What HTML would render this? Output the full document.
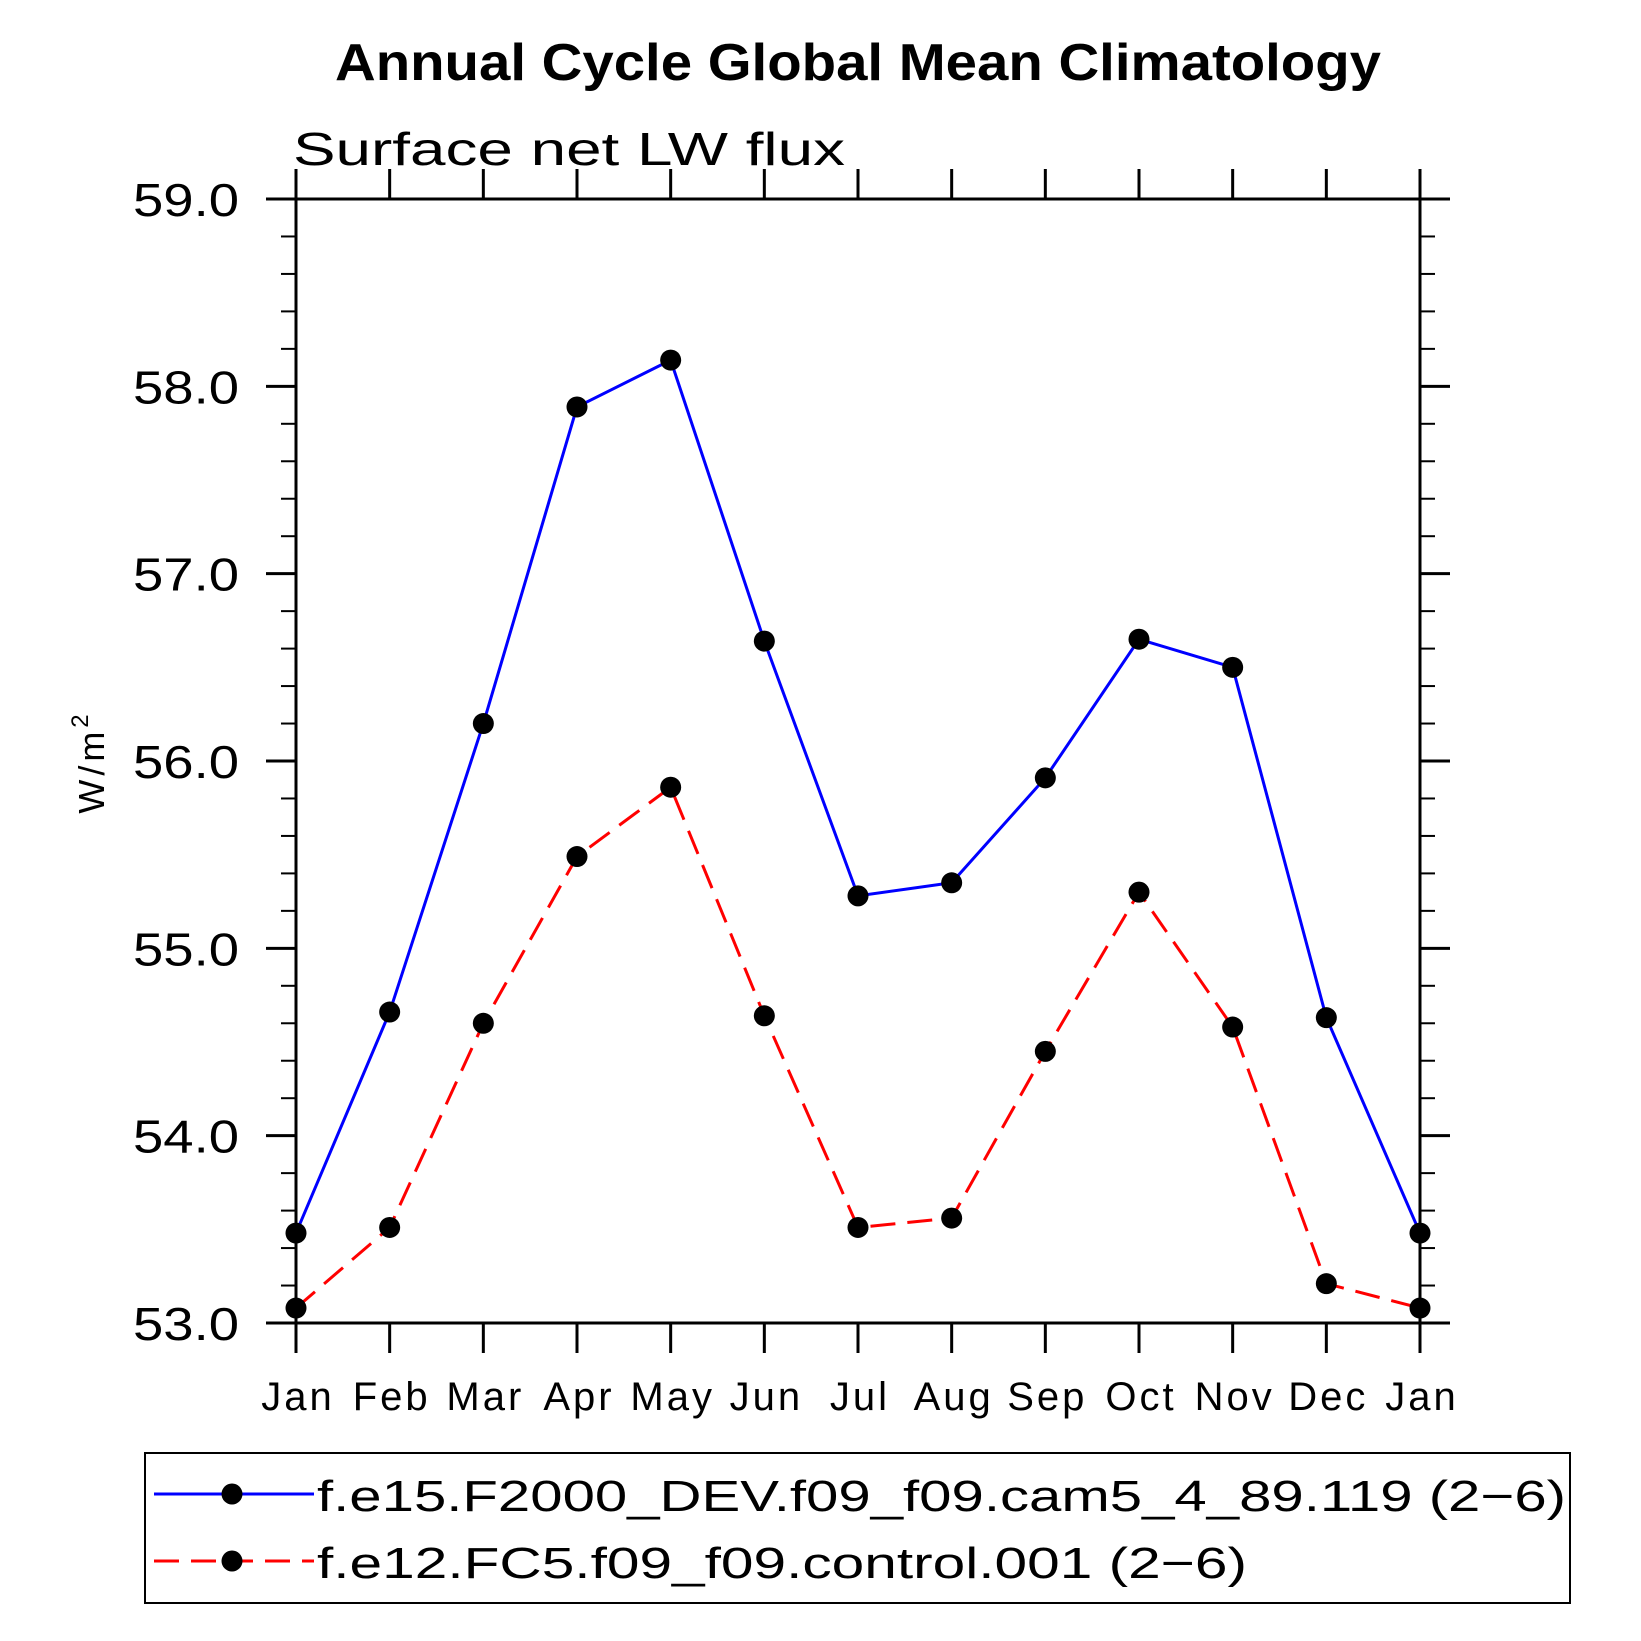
<!DOCTYPE html>
<html><head><meta charset="utf-8"><style>
body{margin:0;background:#fff}
svg{display:block}
text{font-family:"Liberation Sans",sans-serif}
</style></head><body>
<svg id="chart" width="1641" height="1641" viewBox="0 0 1641 1641" xmlns="http://www.w3.org/2000/svg">
<text x="335" y="80" textLength="1046" lengthAdjust="spacingAndGlyphs" font-size="52" font-weight="bold">Annual Cycle Global Mean Climatology</text>
<text x="293" y="165" textLength="552" lengthAdjust="spacingAndGlyphs" font-size="46">Surface net LW flux</text>
<text transform="translate(104,762) rotate(-90)" text-anchor="middle" font-size="36" letter-spacing="4">W/m<tspan dy="-16" font-size="24">2</tspan></text>
<g id="axes"></g>
<g id="series"></g>
<rect x="145" y="1453" width="1425" height="150" fill="none" stroke="#000" stroke-width="2"/>
<g>
<line x1="154" y1="1494" x2="314" y2="1494" stroke="#0000ff" stroke-width="3"/>
<circle cx="232" cy="1494" r="10.5" fill="#000"/>
<text x="317" y="1511" font-size="44" textLength="1249" lengthAdjust="spacingAndGlyphs">f.e15.F2000_DEV.f09_f09.cam5_4_89.119 (2−6)</text>
</g>
<g>
<line x1="154" y1="1561" x2="314" y2="1561" stroke="#ff0000" stroke-width="3" stroke-dasharray="25,12"/>
<circle cx="232" cy="1561" r="10.5" fill="#000"/>
<text x="317" y="1578" font-size="44" textLength="930" lengthAdjust="spacingAndGlyphs">f.e12.FC5.f09_f09.control.001 (2−6)</text>
</g>
</svg>
<script>
const months = ["Jan","Feb","Mar","Apr","May","Jun","Jul","Aug","Sep","Oct","Nov","Dec","Jan"];
const blueValues = [53.48,54.66,56.2,57.89,58.14,56.64,55.28,55.35,55.91,56.65,56.5,54.63,53.48];
const redValues = [53.08,53.51,54.6,55.49,55.86,54.64,53.51,53.56,54.45,55.3,54.58,53.21,53.08];
const yTicks = [53,54,55,56,57,58,59];
const yTickLabels = ["53.0","54.0","55.0","56.0","57.0","58.0","59.0"];

const L=296,R=1420,T=199,B=1323,ymin=53,ymax=59;
const NS="http://www.w3.org/2000/svg";
function xS(i){return L+(R-L)*i/(months.length-1);}
function yS(v){return B-(B-T)*(v-ymin)/(ymax-ymin);}
function mk(tag,attrs,parent){const e=document.createElementNS(NS,tag);for(const k in attrs)e.setAttribute(k,attrs[k]);parent.appendChild(e);return e;}
const axes=document.getElementById('axes');
const frame=mk('rect',{x:L,y:T,width:R-L,height:B-T,fill:'none',stroke:'#000','stroke-width':3},axes);


months.forEach((m,i)=>{
  const x=xS(i);
  mk('line',{x1:x,y1:B,x2:x,y2:B+30,stroke:'#000','stroke-width':3},axes);
  mk('line',{x1:x,y1:T,x2:x,y2:T-30,stroke:'#000','stroke-width':3},axes);
  const t=mk('text',{x:x+2,y:1410,'text-anchor':'middle','font-size':40,'letter-spacing':3},axes);
  t.textContent=m;
  
  
});
yTicks.forEach((v,i)=>{
  const y=yS(v);
  mk('line',{x1:L,y1:y,x2:L-30,y2:y,stroke:'#000','stroke-width':3},axes);
  mk('line',{x1:R,y1:y,x2:R+30,y2:y,stroke:'#000','stroke-width':3},axes);
  const t=mk('text',{x:133,y:y+17,'font-size':46,textLength:106,lengthAdjust:'spacingAndGlyphs'},axes);
  t.textContent=yTickLabels[i];
  
  
  if(i<yTicks.length-1){for(let k=1;k<5;k++){const yy=yS(v+k*0.2);
    mk('line',{x1:L,y1:yy,x2:L-15,y2:yy,stroke:'#000','stroke-width':2},axes);
    mk('line',{x1:R,y1:yy,x2:R+15,y2:yy,stroke:'#000','stroke-width':2},axes);}}
});
const ser=document.getElementById('series');
function draw(vals,color,dash,name){
  const g=mk('g',{},ser);
  
  
  const pts=vals.map((v,i)=>xS(i)+','+yS(v)).join(' ');
  const a={points:pts,fill:'none',stroke:color,'stroke-width':3};
  if(dash)a['stroke-dasharray']=dash;
  mk('polyline',a,g);
  vals.forEach((v,i)=>{const c=mk('circle',{cx:xS(i),cy:yS(v),r:10.5,fill:'#000'},g);
    
    });
}
draw(redValues,'#ff0000','25,12','series-control');
draw(blueValues,'#0000ff',null,'series-dev');
</script>
</body></html>
